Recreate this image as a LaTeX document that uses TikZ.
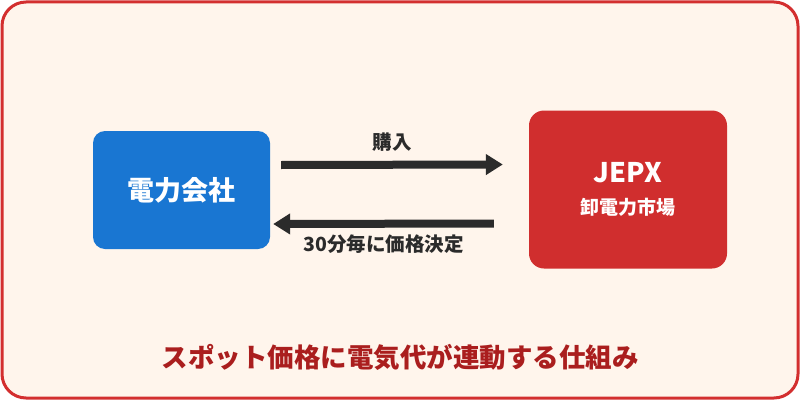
\documentclass[tikz,border=0pt]{standalone}
\usepackage{fontspec}
\setmainfont{Noto Sans CJK JP}
\usetikzlibrary{arrows.meta,positioning,calc}
\definecolor{frame}{RGB}{211,47,47}
\definecolor{paper}{RGB}{255,245,236}
\definecolor{power}{RGB}{25,118,210}
\definecolor{market}{RGB}{208,46,46}
\definecolor{ink}{RGB}{43,43,43}
\definecolor{title}{RGB}{170,30,30}
\newcommand{\fs}[1]{\fontsize{#1}{#1}\selectfont}
\tikzset{
  box/.style={rounded corners=12pt,text=white,font=\bfseries\fs{27},align=center},
  arr/.style={-{Triangle[length=17pt,width=20pt]},line width=8pt,draw=ink},
  lbl/.style={text=ink,font=\bfseries\fs{19.5}},
}

\begin{document}
\begin{tikzpicture}[x=1pt,y=1pt]
  \useasboundingbox (0,0) rectangle (800,400);
  % frame
  \draw[frame,fill=paper,line width=3pt,rounded corners=24pt] (2,2) rectangle (798,398);

  % the two parties
  \node[box,fill=power,minimum width=177pt,minimum height=118pt] (company) at (181.5,210){電力会社};
  \node[box,fill=market,rounded corners=15pt,minimum width=198pt,minimum height=158pt] (jepx) at (628,210.5)
    {{\fs{27}JEPX}\\[5pt]{\fs{19}卸電力市場}};

  % flows
  \draw[arr] ([xshift=11pt,yshift=25pt]company.east) -- ([xshift=-26pt,yshift=25pt]jepx.west)
    node[lbl,midway,above=6pt]{購入};
  \draw[arr] ([xshift=-35pt,yshift=-34pt]jepx.west) -- ([xshift=3pt,yshift=-34pt]company.east)
    node[lbl,midway,below=4pt]{30分毎に価格決定};

  \node[text=title,font=\bfseries\fs{26.5}] (caption) at (400,43){スポット価格に電気代が連動する仕組み};
\end{tikzpicture}
\end{document}
